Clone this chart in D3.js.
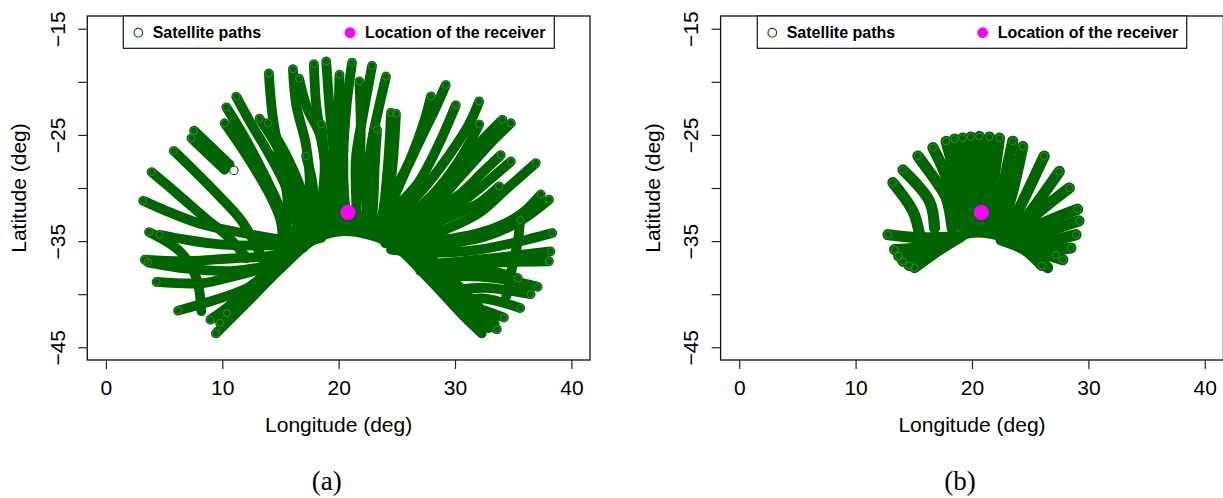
<!DOCTYPE html>
<html>
<head>
<meta charset="utf-8">
<script src="https://cdn.jsdelivr.net/npm/d3@7"></script>
<style>
  body { margin: 0; background: #fff; }
  svg { display: block; }
</style>
</head>
<body>
<svg id="chart" width="1223" height="498"></svg>
<script>
// ---- data -------------------------------------------------------------
const lonTicks = [0, 10, 20, 30, 40];
const latTicks = [-15, -20, -25, -30, -35, -40, -45];
const latTickLabels = [-15, -25, -35, -45];
const legendLabels = ["Satellite paths", "Location of the receiver"];
const panelNames = ["(a)", "(b)"];

// receiver position [lon, lat]
const receiver = [20.8, -32.3];

// isolated single observation in panel (a)
const strayPointsA = [[11.0, -28.34]];

// satellite ground tracks, panel (a): each track is a list of [lon, lat]
const tracksA = [
  // north-west fan
  [[14.0,-19.2],[14.3,-23.0],[15.0,-27.5],[15.6,-31.0],[15.4,-34.6]],
  [[16.07,-18.8],[16.35,-22.15],[17.2,-26],[17.5,-30],[16.9,-33],[16.4,-34.8]],
  [[16.6,-19.7],[17.3,-22.5],[18.4,-25],[19.0,-29],[19.3,-33.5]],
  [[11.2,-21.4],[12.35,-23.7],[14.07,-26.9],[15.5,-30.0],[16.3,-33.0],[16.5,-34.8]],
  [[10.35,-22.4],[11.8,-25.0],[13.5,-28.5],[15.0,-32.0],[15.8,-34.6]],
  [[10.2,-23.9],[12.07,-26.9],[14.07,-30.6],[15.0,-33.0],[15.2,-35.0]],
  [[13.2,-23.47],[14.6,-25.9],[16.07,-29.4],[17.0,-33.0],[17.6,-34.6]],
  [[13.92,-23.9],[15.3,-26.5],[16.6,-29.6],[17.6,-33.0],[18.2,-34.4]],
  [[7.57,-24.6],[10.63,-27.8]],
  [[7.35,-25.3],[10.2,-28.28]],
  [[5.83,-26.5],[7.8,-28.6],[9.6,-30.6],[11.6,-33.0],[12.8,-35.2],[13.6,-37.0]],
  [[3.92,-28.5],[6.3,-30.7],[8.5,-32.8],[10.6,-34.7],[12.1,-36.6]],
  // northern fan
  [[17.87,-18.33],[18.07,-22.15],[18.5,-25.3],[19.2,-30],[19.6,-33.8]],
  [[18.93,-18.08],[19.2,-22.15],[19.6,-27],[19.9,-31],[20.2,-33.8]],
  [[20.07,-19.33],[20.0,-24],[20.1,-29],[20.5,-33.5]],
  [[21.15,-18.2],[20.7,-22],[20.4,-27],[20.5,-31],[20.8,-33.6]],
  [[21.78,-19.96],[21.9,-24],[21.8,-28],[21.5,-32],[21.2,-33.8]],
  [[22.87,-18.5],[22.1,-23.1],[21.5,-27],[21.5,-31],[21.7,-33.8]],
  [[24.07,-19.5],[23.5,-22.2],[22.9,-25.3],[22.5,-28.4],[22.4,-31.5],[22.6,-34]],
  [[23.3,-24.5],[23.1,-28],[23.0,-31],[22.8,-34]],
  [[24.5,-22.9],[24.3,-26.9],[23.9,-31.6],[23.5,-34]],
  [[24.93,-23.0],[24.7,-27],[24.3,-31.5],[24.0,-34.5]],
  [[18.5,-24],[18.8,-28],[18.6,-31],[18.3,-34.3]],
  [[17.2,-27],[17.8,-30],[17.6,-33],[17.2,-34.8]],
  // north-east fan
  [[27.93,-21.37],[27.36,-23.7],[26.07,-27.5],[24.64,-30.6],[23.3,-33.6]],
  [[29.2,-20.3],[28.2,-22.8],[27.3,-24.8],[26.0,-27.8],[24.8,-30.8],[23.8,-33.6]],
  [[30.07,-22.2],[28.6,-25.9],[26.9,-29.4],[25.2,-31.6],[23.8,-33.8]],
  [[32.08,-21.84],[31.2,-24.0],[29.5,-26.9],[27.8,-29.4],[26.0,-31.7],[24.5,-33.7]],
  [[32.08,-24.0],[30.64,-26.9],[28.6,-30.0],[26.5,-32.3],[24.8,-34.0]],
  [[34.07,-23.57],[32.5,-25.3],[31.2,-26.9],[29.5,-29.0],[27.5,-31.5],[25.5,-33.6]],
  [[34.8,-23.9],[33.2,-25.6],[31.8,-27.3],[30.0,-29.5],[28.0,-32.0],[26.0,-34.0]],
  [[33.93,-26.9],[32.3,-28.6],[30.5,-30.5],[28.5,-32.0],[26.0,-33.6]],
  [[34.8,-27.5],[33.0,-29.2],[31.0,-31.0],[29.0,-32.5],[26.5,-34.2]],
  [[36.94,-27.65],[34.36,-30.16],[32.08,-32.35],[29.2,-33.9],[26.4,-35.0]],
  [[33.8,-29.85],[32.08,-31.4],[29.0,-33.0],[26.5,-34.5]],
  [[37.37,-30.6],[35.8,-32.35],[34.36,-33.3],[32.08,-34.24],[29.5,-34.8],[26.5,-35.2],[24.0,-35.2]],
  [[38.08,-31.1],[36.3,-32.6],[34.6,-33.7],[32.5,-34.6],[29.8,-35.2],[27.0,-35.7]],
  [[35.6,-33.0],[35.4,-35.0],[34.9,-37.5],[34.4,-40.2]],
  // eastern tracks
  [[38.36,-34.24],[34.9,-35.2],[32.07,-35.8],[27.5,-36.1],[24.5,-35.8]],
  [[38.2,-35.97],[34.1,-36.5],[30.6,-36.9],[27.5,-37.2]],
  [[38.08,-36.9],[34.0,-37.0],[30.0,-37.3],[27.0,-37.8]],
  [[35.4,-38.5],[32.1,-37.6],[29.0,-37.6]],
  [[37.1,-39.3],[33.5,-38.5],[30.5,-38.3],[28.5,-38.5]],
  [[36.5,-40.0],[32.65,-39.4],[30.2,-39.6]],
  [[35.6,-41.3],[32.4,-40.4],[30.5,-40.6]],
  [[34.2,-42.2],[31.8,-41.3],[30.2,-41.0]],
  [[33.6,-43.3],[31.5,-41.8],[29.5,-40.0]],
  // western tracks
  [[3.2,-31.2],[5.5,-32.3],[8.35,-33.45],[12.6,-34.4],[16.0,-34.9],[18.5,-34.3]],
  [[3.71,-34.15],[6.35,-35.97],[7.78,-38.5],[8.2,-41.6]],
  [[4.63,-34.4],[6.5,-34.8],[9.8,-35.3],[15.5,-35.3],[18.5,-34.7]],
  [[3.34,-36.75],[6.92,-36.9],[11.2,-36.6],[14.07,-36.4],[17.0,-35.6]],
  [[3.6,-37.0],[7.0,-37.6],[11.0,-37.8],[14.5,-37.2]],
  [[4.35,-38.85],[8.35,-38.95],[11.0,-38.3],[14.07,-37.4]],
  [[6.2,-41.55],[9.8,-40.4],[12.0,-39.5],[14.07,-38.2]],
  [[8.98,-42.4],[10.5,-41.2],[12.6,-39.1],[15.0,-37.2]],
  // southern arcs
  [[9.45,-43.7],[12.2,-40.7],[14.9,-37.7],[17.8,-34.9],[19.9,-34.1],[22.6,-34.4],[24.9,-35.5],[27.8,-38.6],[30.6,-41.9],[32.3,-43.7]],
  [[9.8,-42.7],[12.5,-39.7],[15.2,-36.7],[18.0,-34.0],[20.0,-33.3],[22.6,-33.6],[25.0,-34.6],[27.9,-37.6],[30.8,-40.9],[32.9,-43.2]],
  [[10.4,-41.8],[13.0,-38.8],[15.6,-35.9],[18.2,-33.4],[20.2,-32.6],[22.6,-32.8],[25.1,-33.8],[28.0,-36.7],[31.0,-40.0],[33.4,-42.8]]
];

// satellite ground tracks, panel (b)
const tracksB = [
  [[12.78,-34.4],[15.8,-34.7],[18.5,-34.6]],
  [[13.35,-35.8],[15.5,-35.6],[18.0,-34.9]],
  [[13.7,-36.4],[16.0,-35.9],[18.5,-34.8]],
  [[14.07,-36.9],[16.5,-35.8],[18.5,-34.6]],
  [[14.6,-37.3],[16.8,-36.0],[19.0,-34.6]],
  [[15.07,-37.5],[17.5,-35.6],[19.8,-34.2],[22.9,-34.6],[24.65,-35.6],[26.5,-37.5]],
  [[13.2,-29.5],[14.93,-32.2],[15.5,-34.4]],
  [[14.07,-28.3],[16.35,-31.26],[16.78,-33.77]],
  [[15.35,-27.0],[17.0,-29.5],[17.78,-30.9],[18.3,-33.8]],
  [[16.64,-26.2],[17.8,-29],[18.8,-33.5]],
  [[17.78,-25.6],[18.6,-29],[19.5,-33.5]],
  [[18.5,-25.4],[19.2,-29],[19.9,-33.5]],
  [[19.2,-25.3],[19.6,-29],[20.2,-33.5]],
  [[19.9,-25.2],[20.2,-29],[20.5,-33.5]],
  [[20.64,-25.14],[20.7,-29],[20.8,-33.5]],
  [[21.5,-25.2],[21.3,-29],[21.1,-33.5]],
  [[22.36,-25.3],[21.9,-29],[21.4,-33.5]],
  [[23.5,-25.6],[22.9,-28.7],[22.0,-33.5]],
  [[24.36,-26.1],[23.5,-30.3],[22.9,-32.5],[22.4,-34]],
  [[26.2,-27.0],[24.36,-31.26],[23.2,-33.8]],
  [[27.5,-28.44],[24.64,-32.8],[23.5,-34.2]],
  [[28.36,-30.0],[25.5,-32.5],[24.0,-34.2]],
  [[29.07,-32.0],[25.8,-33.45],[24.0,-34.6]],
  [[29.2,-33.1],[26.4,-34.1],[24.5,-34.8]],
  [[28.94,-34.4],[26.5,-35.0],[24.5,-35.2]],
  [[28.5,-35.65],[26.5,-35.8],[24.5,-35.5]],
  [[27.8,-36.75],[25.5,-35.9],[23.5,-35.0]],
  [[27.2,-36.3],[25.0,-35.4],[23.0,-34.6]],
  [[26.0,-37.3],[24.5,-35.8],[22.5,-34.9]]
];

// ---- layout -----------------------------------------------------------
const svg = d3.select("#chart");
const GREEN = "#006400";
const MAGENTA = "#ff00ff";
const SANS = "'Liberation Sans', Arial, Helvetica, sans-serif";

const panels = [
  { left: 87.3,  width: 502.7, tracks: tracksA, stray: strayPointsA, band: 9.8,  legendL: 123.3, legendR: 554.3, magX: 350.0 },
  { left: 720.6, width: 502.8, tracks: tracksB, stray: [],           band: 11.2, legendL: 757.3, legendR: 1186.7, magX: 982.7 }
];
const plotTop = 16, plotH = 344;

panels.forEach((p, i) => {
  const g = svg.append("g");
  const x = d3.scaleLinear().domain([-1.6, 41.6]).range([p.left, p.left + p.width]);
  const y = d3.scaleLinear().domain([-46.2, -13.8]).range([plotTop + plotH, plotTop]);

  const line = d3.line()
    .x(d => x(d[0])).y(d => y(d[1]))
    .curve(d3.curveCatmullRom.alpha(0.5));

  // tracks: dense runs of open circles appear as thick bands
  g.append("g")
    .selectAll("path")
    .data(p.tracks)
    .join("path")
    .attr("d", line)
    .attr("fill", "none")
    .attr("stroke", GREEN)
    .attr("stroke-width", p.band)
    .attr("stroke-linecap", "round")
    .attr("stroke-linejoin", "round");

  // faint rings at the outer end of each track
  g.append("g")
    .selectAll("circle")
    .data(p.tracks.map(t => t[0]))
    .join("circle")
    .attr("cx", d => x(d[0])).attr("cy", d => y(d[1]))
    .attr("r", 3.6)
    .attr("fill", "none")
    .attr("stroke", "#3f8f3f")
    .attr("stroke-width", 0.8);

  // isolated observations
  g.append("g")
    .selectAll("circle")
    .data(p.stray)
    .join("circle")
    .attr("cx", d => x(d[0])).attr("cy", d => y(d[1]))
    .attr("r", 4.2)
    .attr("fill", "#fff")
    .attr("stroke", GREEN)
    .attr("stroke-width", 1.1);

  // receiver
  g.append("circle")
    .attr("cx", x(receiver[0])).attr("cy", y(receiver[1]))
    .attr("r", 7.6)
    .attr("fill", MAGENTA);

  // plot frame
  g.append("rect")
    .attr("x", p.left).attr("y", plotTop)
    .attr("width", p.width).attr("height", plotH)
    .attr("fill", "none").attr("stroke", "#111").attr("stroke-width", 1.3);

  // x axis
  const xa = g.append("g")
    .attr("transform", `translate(0,${plotTop + plotH})`)
    .call(d3.axisBottom(x).tickValues(lonTicks).tickSize(9).tickFormat(d3.format("d")));
  xa.select(".domain").remove();
  xa.selectAll("line").attr("stroke", "#222").attr("stroke-width", 1.2);
  xa.selectAll("text")
    .attr("y", 35).attr("dy", null)
    .attr("font-family", SANS).attr("font-size", 21).attr("fill", "#000");

  // y axis
  const ya = g.append("g")
    .attr("transform", `translate(${p.left},0)`)
    .call(d3.axisLeft(y).tickValues(latTicks).tickSize(9)
      .tickFormat(d => latTickLabels.includes(d) ? "\u2212" + Math.abs(d) : ""));
  ya.select(".domain").remove();
  ya.selectAll("line").attr("stroke", "#222").attr("stroke-width", 1.2);
  ya.selectAll("text")
    .attr("x", null).attr("dy", null)
    .attr("transform", "translate(-22.3,0) rotate(-90)")
    .attr("text-anchor", "middle")
    .attr("font-family", SANS).attr("font-size", 21).attr("fill", "#000");

  // axis titles
  g.append("text")
    .attr("x", p.left + p.width / 2).attr("y", 432)
    .attr("text-anchor", "middle")
    .attr("font-family", SANS).attr("font-size", 21)
    .text("Longitude (deg)");
  g.append("text")
    .attr("transform", `translate(${p.left - 61},${plotTop + plotH / 2}) rotate(-90)`)
    .attr("text-anchor", "middle")
    .attr("font-family", SANS).attr("font-size", 21)
    .text("Latitude (deg)");

  // panel caption
  g.append("text")
    .attr("x", p.left + p.width / 2 - 12).attr("y", 490)
    .attr("text-anchor", "middle")
    .attr("font-family", "'Liberation Serif', 'Times New Roman', serif")
    .attr("font-size", 27)
    .text(panelNames[i]);

  // legend
  const lg = g.append("g");
  lg.append("rect")
    .attr("x", p.legendL).attr("y", plotTop)
    .attr("width", p.legendR - p.legendL).attr("height", 32.3)
    .attr("fill", "#fff").attr("stroke", "#111").attr("stroke-width", 1.2);
  lg.append("circle")
    .attr("cx", p.legendL + 15).attr("cy", 32.7).attr("r", 4.3)
    .attr("fill", "none").attr("stroke", GREEN).attr("stroke-width", 1.2);
  lg.append("text")
    .attr("x", p.legendL + 29.4).attr("y", 38.4)
    .attr("font-family", SANS).attr("font-size", 16).attr("font-weight", "bold")
    .text(legendLabels[0]);
  lg.append("circle")
    .attr("cx", p.magX).attr("cy", 32.7).attr("r", 5.4)
    .attr("fill", MAGENTA);
  lg.append("text")
    .attr("x", p.magX + 15).attr("y", 38.4)
    .attr("font-family", SANS).attr("font-size", 16).attr("font-weight", "bold")
    .text(legendLabels[1]);
});
</script>
</body>
</html>
